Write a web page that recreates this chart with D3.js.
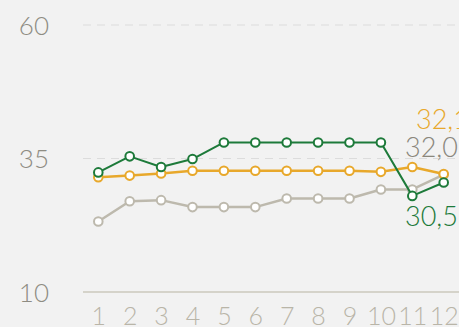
<!DOCTYPE html>
<html>
<head>
<meta charset="utf-8">
<script src="https://cdn.jsdelivr.net/npm/d3@7"></script>
<style>
  html, body { margin: 0; padding: 0; background: #f2f2f2; overflow: hidden; }
  svg { display: block; font-family: Lato, "Open Sans", sans-serif; }
</style>
</head>
<body>
<svg id="chart" width="459" height="327"></svg>
<script>
// Months 1..12 and three series
const months = [1, 2, 3, 4, 5, 6, 7, 8, 9, 10, 11, 12];
const seriesGray   = [23.2, 27.0, 27.2, 25.9, 25.9, 25.9, 27.5, 27.5, 27.5, 29.2, 29.2, 32.0];
const seriesYellow = [31.5, 31.8, 32.2, 32.7, 32.7, 32.7, 32.7, 32.7, 32.7, 32.5, 33.4, 32.1];
const seriesGreen  = [32.4, 35.4, 33.4, 34.9, 38.0, 38.0, 38.0, 38.0, 38.0, 38.0, 28.0, 30.5];
const yTicks = [10, 35, 60];
const endLabels = ["32,1", "32,0", "30,5"];

const svg = d3.select("#chart");
const W = 459, H = 327;

const x = d3.scalePoint().domain(months).range([98.3, 443.7]);
const y = d3.scaleLinear().domain([10, 60]).range([292, 25]);

// Dashed gridlines (top and middle), solid baseline
svg.append("g").selectAll("line")
  .data(yTicks.filter(d => d !== 10))
  .join("line")
  .attr("x1", 83).attr("x2", W)
  .attr("y1", d => y(d)).attr("y2", d => y(d))
  .attr("stroke", "#dcdcdc").attr("stroke-width", 1)
  .attr("stroke-dasharray", "8,6");

svg.append("line")
  .attr("x1", 83).attr("x2", W)
  .attr("y1", y(10)).attr("y2", y(10))
  .attr("stroke", "#cbc8bd").attr("stroke-width", 1.5);

// Y tick labels
const yAxis = d3.axisLeft(y).tickValues(yTicks).tickSize(0).tickPadding(0);
const gy = svg.append("g").attr("transform", "translate(49,0)").call(yAxis);
gy.select(".domain").remove();
gy.selectAll("text")
  .attr("font-family", "Lato, sans-serif")
  .attr("font-size", 26).attr("font-weight", 300)
  .attr("fill", "#8e8c83").attr("dy", "0.35em");

// X tick labels
const xAxis = d3.axisBottom(x).tickSize(0).tickPadding(0);
const gx = svg.append("g").attr("transform", "translate(0,307)").call(xAxis);
gx.select(".domain").remove();
gx.selectAll("text")
  .attr("font-family", "Lato, sans-serif")
  .attr("font-size", 25).attr("font-weight", 300)
  .attr("fill", "#b9b5a8").attr("dy", "0.71em");

// Lines with hollow markers
const series = [
  { values: seriesGray,   color: "#bdb9ad", width: 2.5 },
  { values: seriesYellow, color: "#e8a82b", width: 2.5 },
  { values: seriesGreen,  color: "#1d7a3a", width: 2 }
];

const line = d3.line().x((d, i) => x(months[i])).y(d => y(d));

series.forEach(s => {
  svg.append("path")
    .datum(s.values)
    .attr("d", line)
    .attr("fill", "none")
    .attr("stroke", s.color)
    .attr("stroke-width", s.width)
    .attr("stroke-linejoin", "round");
  svg.append("g").selectAll("circle")
    .data(s.values)
    .join("circle")
    .attr("cx", (d, i) => x(months[i]))
    .attr("cy", d => y(d))
    .attr("r", 4.3)
    .attr("fill", "#ffffff")
    .attr("stroke", s.color)
    .attr("stroke-width", 2);
});

// End value labels
const labelData = [
  { text: endLabels[0], color: "#e8a82b", xPos: 416, yPos: 129 },
  { text: endLabels[1], color: "#8a877c", xPos: 405, yPos: 157 },
  { text: endLabels[2], color: "#1d7a3a", xPos: 405, yPos: 226 }
];
svg.append("g").selectAll("text")
  .data(labelData)
  .join("text")
  .attr("x", d => d.xPos)
  .attr("y", d => d.yPos)
  .attr("font-size", 27)
  .attr("font-weight", 300)
  .attr("fill", d => d.color)
  .text(d => d.text);
</script>
</body>
</html>
